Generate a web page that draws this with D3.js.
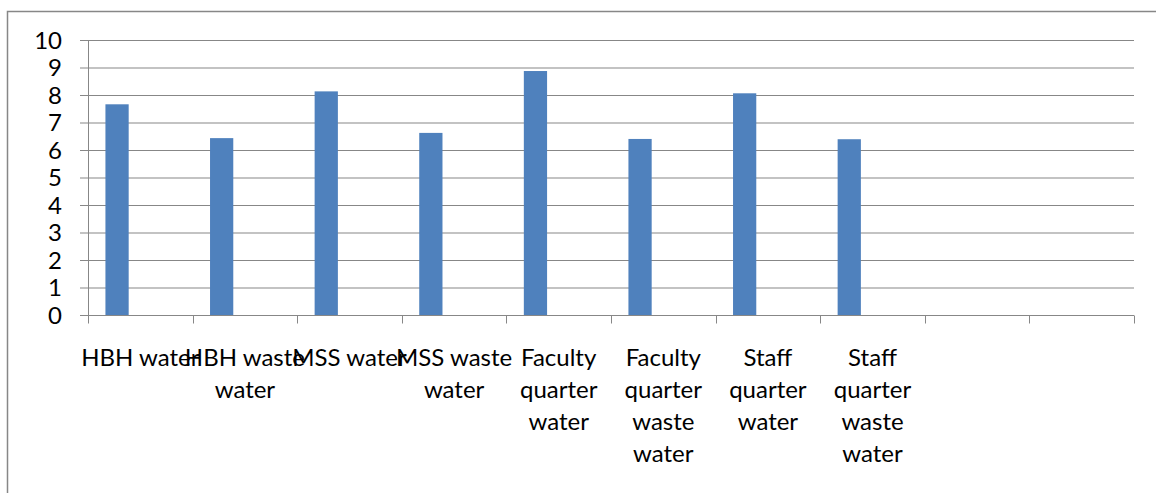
<!DOCTYPE html>
<html>
<head>
<meta charset="utf-8">
<script src="https://cdn.jsdelivr.net/npm/d3@7"></script>
<style>
  html, body { margin: 0; padding: 0; background: #fff; }
  svg { display: block; }
  text { font-family: Lato, "Open Sans", sans-serif; fill: #000; }
</style>
</head>
<body>
<svg id="chart" width="1156" height="493"></svg>
<script>
// ---- data ----
const categories = [
  "HBH water", "HBH waste water", "MSS water", "MSS waste water",
  "Faculty quarter water", "Faculty quarter waste water",
  "Staff quarter water", "Staff quarter waste water", "", ""
];
const values = [7.68, 6.45, 8.15, 6.64, 8.89, 6.42, 8.08, 6.41];
const seriesNames = ["Series1", "Series2", "Series3"];
const yTicks = [0, 1, 2, 3, 4, 5, 6, 7, 8, 9, 10];

// ---- layout ----
const W = 1156, H = 493;
const plot = { left: 88, right: 1134, top: 40.5, bottom: 315.5 };
const gridColor = "#878787";
const barColor = "#4f81bd";
const fontSize = 24;

const svg = d3.select("#chart");

// outer chart border (extends beyond the captured frame on right/bottom)
svg.append("rect")
  .attr("x", 7.5).attr("y", 11.5)
  .attr("width", W + 20).attr("height", H + 20)
  .attr("fill", "none").attr("stroke", gridColor).attr("stroke-width", 1.5);

const x = d3.scaleBand()
  .domain(d3.range(categories.length))
  .range([plot.left, plot.right])
  .paddingInner(0).paddingOuter(0);

const xSub = d3.scaleBand()
  .domain(seriesNames)
  .range([0, x.bandwidth()])
  .paddingInner(0).paddingOuter(0.75);

const y = d3.scaleLinear().domain([0, 10]).range([plot.bottom, plot.top]);

// gridlines
svg.append("g").selectAll("line").data(yTicks).join("line")
  .attr("x1", plot.left - 8).attr("x2", plot.right)
  .attr("y1", d => y(d)).attr("y2", d => y(d))
  .attr("stroke", gridColor).attr("stroke-width", 1);

// y axis
const yAxis = svg.append("g")
  .attr("transform", `translate(${plot.left},0)`)
  .call(d3.axisLeft(y).tickValues(yTicks).tickSize(0).tickPadding(26));
yAxis.select(".domain").remove();
yAxis.selectAll("text")
  .style("font-family", "Lato, 'Open Sans', sans-serif")
  .style("font-size", fontSize + "px").attr("fill", "#000");
svg.append("line")
  .attr("x1", plot.left + 0.5).attr("x2", plot.left + 0.5)
  .attr("y1", y(10)).attr("y2", y(0))
  .attr("stroke", gridColor).attr("stroke-width", 1);

// bars (only first series has data)
svg.append("g").selectAll("rect").data(values).join("rect")
  .attr("x", (d, i) => x(i) + xSub(seriesNames[0]))
  .attr("width", xSub.bandwidth())
  .attr("y", d => y(d))
  .attr("height", d => y(0) - y(d))
  .attr("fill", barColor);

// x axis line + ticks at category boundaries
svg.append("line")
  .attr("x1", plot.left).attr("x2", plot.right)
  .attr("y1", y(0)).attr("y2", y(0))
  .attr("stroke", gridColor).attr("stroke-width", 1);
const boundaries = d3.range(categories.length).map(i => x(i)).concat([x.range()[1]]);
svg.append("g").selectAll("line").data(boundaries).join("line")
  .attr("x1", d => Math.round(d) + 0.5).attr("x2", d => Math.round(d) + 0.5)
  .attr("y1", y(0)).attr("y2", y(0) + 8)
  .attr("stroke", gridColor).attr("stroke-width", 1);

// category labels, word-wrapped like the original
const maxW = x.bandwidth() * 1.15;
const lineH = 32;
const firstBaseline = 365.5;
const labels = svg.append("g");
categories.forEach((c, i) => {
  if (!c) return;
  const cx = x(i) + x.bandwidth() / 2;
  const t = labels.append("text")
    .attr("text-anchor", "middle")
    .style("font-size", fontSize + "px");
  const words = c.split(" ");
  const lines = [];
  let cur = "";
  const probe = labels.append("text").style("font-size", fontSize + "px");
  words.forEach(w => {
    const test = cur ? cur + " " + w : w;
    probe.text(test);
    if (cur && probe.node().getComputedTextLength() > maxW) {
      lines.push(cur); cur = w;
    } else cur = test;
  });
  lines.push(cur);
  probe.remove();
  lines.forEach((l, k) => {
    t.append("tspan").attr("x", cx).attr("y", firstBaseline + k * lineH).text(l);
  });
});
</script>
</body>
</html>
